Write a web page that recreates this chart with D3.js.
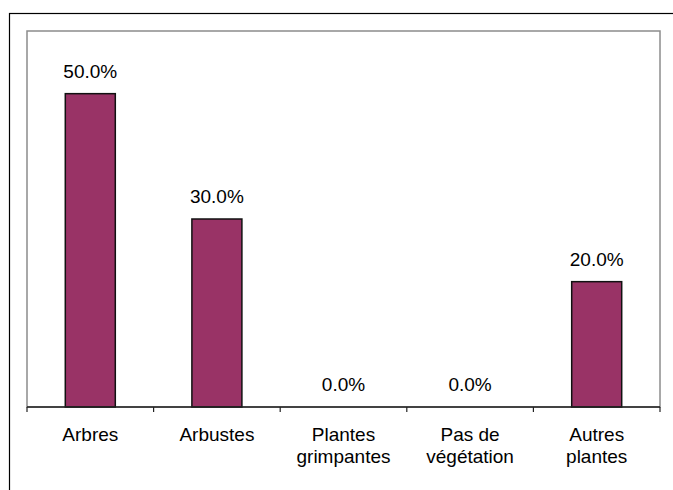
<!DOCTYPE html>
<html>
<head>
<meta charset="utf-8">
<script src="https://cdn.jsdelivr.net/npm/d3@7"></script>
<style>
  html, body { margin: 0; padding: 0; background: #fff; }
  text { font-family: "Liberation Sans", Arial, sans-serif; fill: #000; }
</style>
</head>
<body>
<svg id="chart" width="673" height="490"></svg>
<script>
const categories = ["Arbres", "Arbustes", "Plantes\ngrimpantes", "Pas de\nvégétation", "Autres\nplantes"];
const values = [0.5, 0.3, 0.0, 0.0, 0.2];
const yDomain = [0, 0.6];

const W = 673, H = 490;
const plot = { left: 27, right: 660, top: 31, bottom: 407 };
const fontSize = 19;

const svg = d3.select("#chart");

// outer frame (top and left edges visible)
svg.append("rect")
  .attr("x", 9.5).attr("y", 13.5)
  .attr("width", 700).attr("height", 600)
  .attr("fill", "none").attr("stroke", "#000").attr("stroke-width", 1.2);

const x = d3.scaleBand()
  .domain(categories)
  .range([plot.left, plot.right])
  .paddingInner(0.605)
  .paddingOuter(0.3025);

const y = d3.scaleLinear().domain(yDomain).range([plot.bottom, plot.top]);

// plot area border
svg.append("rect")
  .attr("x", plot.left).attr("y", plot.top)
  .attr("width", plot.right - plot.left).attr("height", plot.bottom - plot.top)
  .attr("fill", "none").attr("stroke", "#8c8c8c").attr("stroke-width", 1.5);

// bars
svg.selectAll("rect.bar")
  .data(values)
  .enter().append("rect")
  .attr("class", "bar")
  .attr("x", (d, i) => x(categories[i]))
  .attr("width", x.bandwidth())
  .attr("y", d => y(d))
  .attr("height", d => y(0) - y(d))
  .attr("fill", "#993366")
  .attr("stroke", d => d > 0 ? "#111" : "none")
  .attr("stroke-width", 1.5);

// value labels
svg.selectAll("text.val")
  .data(values)
  .enter().append("text")
  .attr("class", "val")
  .attr("x", (d, i) => x(categories[i]) + x.bandwidth() / 2)
  .attr("y", d => y(d) - 16)
  .attr("text-anchor", "middle")
  .attr("font-size", fontSize)
  .text(d => d3.format(".1%")(d));

// x axis line and boundary ticks
const step = x.step();
const bx = d3.range(categories.length + 1).map(i => plot.left + i * (plot.right - plot.left) / categories.length);
svg.append("line")
  .attr("x1", plot.left).attr("x2", plot.right)
  .attr("y1", plot.bottom).attr("y2", plot.bottom)
  .attr("stroke", "#222").attr("stroke-width", 1.5);
svg.selectAll("line.tick")
  .data(bx)
  .enter().append("line")
  .attr("class", "tick")
  .attr("x1", d => d).attr("x2", d => d)
  .attr("y1", plot.bottom).attr("y2", plot.bottom + 5)
  .attr("stroke", "#222").attr("stroke-width", 1.2);

// category labels
const lab = svg.selectAll("text.cat")
  .data(categories)
  .enter().append("text")
  .attr("class", "cat")
  .attr("text-anchor", "middle")
  .attr("font-size", fontSize)
  .attr("transform", d => `translate(${x(d) + x.bandwidth() / 2},441)`);
lab.each(function (d) {
  const t = d3.select(this);
  d.split("\n").forEach((line, i) => {
    t.append("tspan").attr("x", 0).attr("y", i * 22).text(line);
  });
});
</script>
</body>
</html>
